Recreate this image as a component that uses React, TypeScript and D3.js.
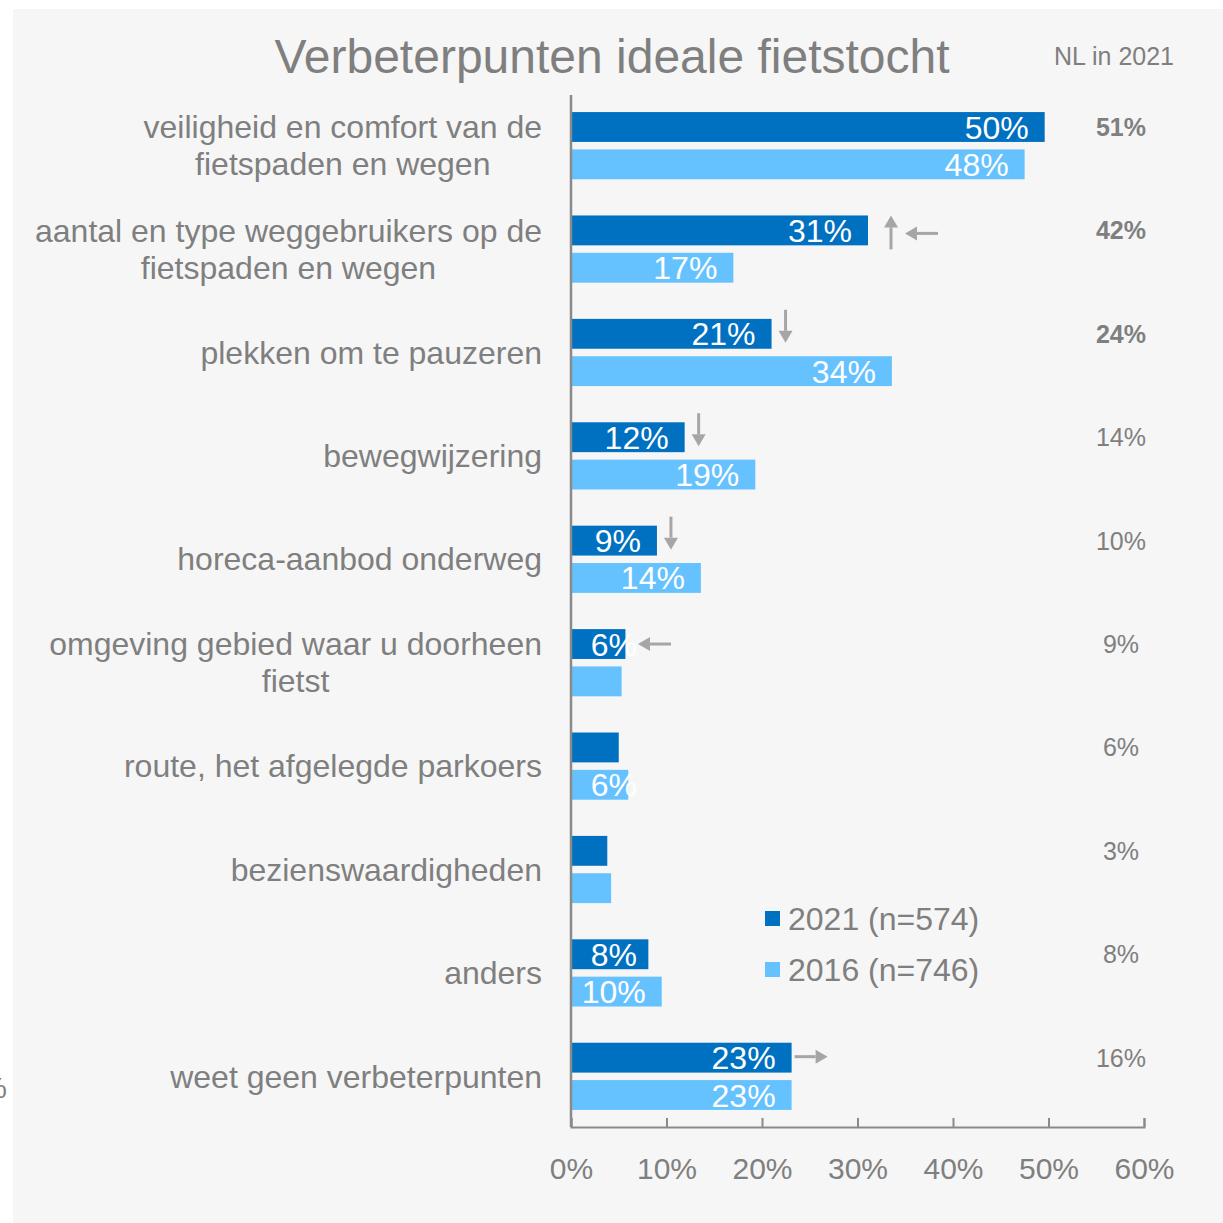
import React, { useRef, useEffect } from "react";
import * as d3 from "d3";

// categories (lines of each label)
const categories: string[][] = [
  ["veiligheid en comfort van de", "fietspaden en wegen"],
  ["aantal en type weggebruikers op de", "fietspaden en wegen"],
  ["plekken om te pauzeren"],
  ["bewegwijzering"],
  ["horeca-aanbod onderweg"],
  ["omgeving gebied waar u doorheen", "fietst"],
  ["route, het afgelegde parkoers"],
  ["bezienswaardigheden"],
  ["anders"],
  ["weet geen verbeterpunten"],
];

const values2021 = [49.6, 31.1, 21.0, 11.9, 9.0, 5.7, 5.0, 3.8, 8.1, 23.1];
const values2016 = [47.5, 17.0, 33.6, 19.3, 13.6, 5.3, 6.0, 4.2, 9.5, 23.1];
const showLabel2021 = [true, true, true, true, true, true, false, false, true, true];
const showLabel2016 = [true, true, true, true, true, false, true, false, true, true];

// NL in 2021 column
const nl2021 = [51, 42, 24, 14, 10, 9, 6, 3, 8, 16];
const nlBold = [true, true, true, false, false, false, false, false, false, false];

// significance arrows
const change2016 = [null, "up", "down", "down", "down", null, null, null, null, null];
const vsNL = [null, "left", null, null, null, "left", null, null, null, "right"];

const seriesNames = ["2021 (n=574)", "2016 (n=746)"];
const xTicks = [0, 10, 20, 30, 40, 50, 60];

const DARK = "#0070C0";
const LIGHT = "#66C2FF";
const GREY = "#7f7f7f";
const AXIS = "#8a8a8a";
const ARROW = "#a6a6a6";
const FONT = "'Liberation Sans', Arial, sans-serif";

const App = () => {
  const svgRef = useRef<SVGSVGElement>(null);

  useEffect(() => {
    const svg = d3.select(svgRef.current);
    svg.selectAll("*").remove();

    const W = 1223;
    const H = 1223;
    const left = 571;
    const right = 1144;
    const top = 95;
    const bottom = 1127;

    svg.attr("width", W).attr("height", H).style("font-family", FONT);

    // panel
    svg.append("rect").attr("x", 0).attr("y", 0).attr("width", W).attr("height", H).attr("fill", "#ffffff");
    svg.append("rect").attr("x", 13).attr("y", 9).attr("width", W - 13).attr("height", H - 9).attr("fill", "#f6f6f6");

    // leftover glyph peeking in at the white margin
    svg.append("text").attr("x", 7).attr("y", 1098).attr("text-anchor", "end")
      .attr("font-size", 30).attr("fill", GREY).text("%");

    // title
    svg.append("text").attr("x", 612).attr("y", 73).attr("text-anchor", "middle")
      .attr("font-size", 48).attr("fill", GREY).text("Verbeterpunten ideale fietstocht");
    svg.append("text").attr("x", 1114).attr("y", 65).attr("text-anchor", "middle")
      .attr("font-size", 25).attr("fill", GREY).text("NL in 2021");

    const keys = categories.map((c) => c.join(" "));
    const x = d3.scaleLinear().domain([0, 60]).range([left, right]);
    const y = d3.scaleBand().domain(keys).range([top, bottom]).paddingInner(0.35).paddingOuter(0.165);
    const sub = d3.scaleBand().domain(["2021", "2016"]).range([0, y.bandwidth()]).paddingInner(0.2);

    const rows = keys.map((k, i) => ({
      key: k,
      i,
      v21: values2021[i],
      v16: values2016[i],
    }));

    const labelEnd = (v: number) => Math.max(x(v) - 16, left + 66);

    // bars
    const g = svg.append("g");
    g.selectAll("rect.b21").data(rows).enter().append("rect")
      .attr("x", left).attr("y", (d) => y(d.key)! + sub("2021")!)
      .attr("width", (d) => x(d.v21) - left).attr("height", sub.bandwidth())
      .attr("fill", DARK);
    g.selectAll("rect.b16").data(rows).enter().append("rect")
      .attr("x", left).attr("y", (d) => y(d.key)! + sub("2016")!)
      .attr("width", (d) => x(d.v16) - left).attr("height", sub.bandwidth())
      .attr("fill", LIGHT);

    // bar labels
    g.selectAll("text.l21").data(rows.filter((d) => showLabel2021[d.i])).enter().append("text")
      .attr("x", (d) => labelEnd(d.v21))
      .attr("y", (d) => y(d.key)! + sub("2021")! + sub.bandwidth() / 2)
      .attr("dy", "0.36em").attr("text-anchor", "end").attr("font-size", 32).attr("fill", "#ffffff")
      .text((d) => Math.round(d.v21) + "%");
    g.selectAll("text.l16").data(rows.filter((d) => showLabel2016[d.i])).enter().append("text")
      .attr("x", (d) => labelEnd(d.v16))
      .attr("y", (d) => y(d.key)! + sub("2016")! + sub.bandwidth() / 2)
      .attr("dy", "0.36em").attr("text-anchor", "end").attr("font-size", 32).attr("fill", "#ffffff")
      .text((d) => Math.round(d.v16) + "%");

    // category labels (multi-line, centred block, right edge at 542)
    rows.forEach((d) => {
      const lines = categories[d.i];
      const c = y(d.key)! + y.bandwidth() / 2;
      const texts = lines.map((line, j) =>
        svg.append("text")
          .attr("y", c + (j - (lines.length - 1) / 2) * 37)
          .attr("dy", "0.35em").attr("text-anchor", "middle")
          .attr("font-size", 32).attr("fill", GREY).text(line)
      );
      const maxW = d3.max(texts, (t) => (t.node() as SVGTextElement).getComputedTextLength()) || 0;
      texts.forEach((t) => t.attr("x", 542 - maxW / 2));
    });

    // NL column
    svg.append("g").selectAll("text").data(rows).enter().append("text")
      .attr("x", 1121).attr("y", (d) => y(d.key)! + sub("2021")! + sub.bandwidth() / 2)
      .attr("dy", "0.36em").attr("text-anchor", "middle").attr("font-size", 25)
      .attr("font-weight", (d) => (nlBold[d.i] ? "bold" : "normal"))
      .attr("fill", GREY).text((d) => nl2021[d.i] + "%");

    // arrows
    const arrows = svg.append("g");
    const drawArrow = (x1: number, y1: number, x2: number, y2: number) => {
      const len = Math.hypot(x2 - x1, y2 - y1);
      const ux = (x2 - x1) / len;
      const uy = (y2 - y1) / len;
      const hl = 12;
      const hw = 7;
      const bx = x2 - ux * hl;
      const by = y2 - uy * hl;
      arrows.append("line").attr("x1", x1).attr("y1", y1).attr("x2", bx).attr("y2", by)
        .attr("stroke", ARROW).attr("stroke-width", 3);
      arrows.append("path")
        .attr("d", `M${x2},${y2}L${bx - uy * hw},${by + ux * hw}L${bx + uy * hw},${by - ux * hw}Z`)
        .attr("fill", ARROW);
    };
    rows.forEach((d) => {
      const c = y(d.key)! + sub("2021")! + sub.bandwidth() / 2;
      const end = x(d.v21);
      let vx: number | null = null;
      if (change2016[d.i] === "up") {
        vx = end + 23;
        drawArrow(vx, c + 19, vx, c - 15);
      } else if (change2016[d.i] === "down") {
        vx = end + 14;
        drawArrow(vx, c - 24, vx, c + 9);
      }
      const after = vx !== null ? vx + 14 : Math.max(end, showLabel2021[d.i] ? labelEnd(d.v21) : end) + 1;
      if (vsNL[d.i] === "left") {
        drawArrow(after + 33, c + (vx !== null ? 3 : 0), after, c + (vx !== null ? 3 : 0));
      } else if (vsNL[d.i] === "right") {
        drawArrow(end + 3, c - 1, end + 36, c - 1);
      }
    });

    // x axis
    const xAxis = svg.append("g").attr("transform", `translate(0,${bottom})`)
      .call(d3.axisBottom(x).tickValues(xTicks).tickSize(-9).tickPadding(31).tickFormat((d) => d + "%"));
    xAxis.select(".domain").attr("stroke", AXIS).attr("stroke-width", 2);
    xAxis.selectAll(".tick line").attr("stroke", AXIS).attr("stroke-width", 2);
    xAxis.selectAll(".tick text").attr("fill", GREY).attr("font-size", 30).attr("font-family", FONT);

    // y axis line
    svg.append("line").attr("x1", left).attr("x2", left).attr("y1", top).attr("y2", bottom)
      .attr("stroke", AXIS).attr("stroke-width", 2.5);

    // legend
    const legend = svg.append("g");
    [DARK, LIGHT].forEach((col, i) => {
      legend.append("rect").attr("x", 765).attr("y", 911 + i * 51).attr("width", 15).attr("height", 15).attr("fill", col);
      legend.append("text").attr("x", 788).attr("y", 918.5 + i * 51).attr("dy", "0.36em")
        .attr("font-size", 32).attr("fill", GREY).text(seriesNames[i]);
    });
  }, []);

  return (
    <div style={{ position: "absolute", left: 0, top: 0 }}>
      <svg ref={svgRef} style={{ display: "block" }}></svg>
    </div>
  );
};

export default App;
